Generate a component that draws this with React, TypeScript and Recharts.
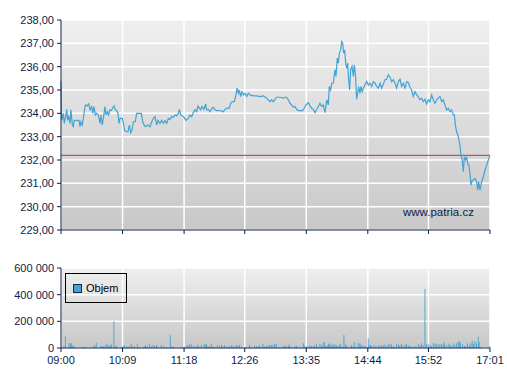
import {
  LineChart,
  Line,
  BarChart,
  Bar,
  XAxis,
  YAxis,
  CartesianGrid,
  ReferenceLine,
  Legend,
} from "recharts";

// x axis: minutes after 09:00
const timeLabels = ["09:00", "10:09", "11:18", "12:26", "13:35", "14:44", "15:52", "17:01"];
const toMinutes = (s: string) => {
  const [h, m] = s.split(":").map(Number);
  return (h - 9) * 60 + m;
};
const timeTicks = timeLabels.map(toMinutes);
const sessionEnd = timeTicks[timeTicks.length - 1];

const priceTicks = [229, 230, 231, 232, 233, 234, 235, 236, 237, 238];
const volumeTicks = [0, 200000, 400000, 600000];
const previousClose = 232.2;

// [minute, price]
const pricePoints: [number, number][] = [
  [0, 235.4], [0.5, 234.0], [1, 233.7], [2.6, 234.0], [3.7, 233.57], [5.2, 233.86], [6.4, 234.17],
  [7.5, 233.7], [8.6, 233.9], [10.1, 233.57], [11.2, 234.15], [12.7, 233.5], [13.8, 233.43],
  [14.9, 233.7], [17.6, 233.7], [20.2, 233.7], [21.3, 233.43], [22.4, 233.64], [23.9, 233.5],
  [25, 233.78], [26.9, 234.29], [28, 234.36], [29.5, 234.32], [31, 234.4], [32.5, 234.15],
  [34.4, 234.29], [35.5, 234.0], [37, 234.29], [38.5, 233.93], [40, 234.0], [41.9, 233.93],
  [43.7, 233.57], [44.8, 233.93], [46.3, 233.5], [47.8, 233.86], [49.3, 234.29], [50.5, 233.93],
  [51.9, 234.07], [53.4, 233.93], [54.9, 234.15], [56.4, 234.12], [57.9, 234.22], [59.4, 234.32],
  [60.9, 234.15], [62.4, 234.12], [63.9, 234.0], [65, 233.57], [66.2, 233.78], [68.8, 233.78],
  [69.9, 233.57], [71.4, 233.26], [73.6, 233.21], [75.1, 233.21], [76.6, 233.5], [78.1, 233.17],
  [79.6, 233.29], [81.1, 233.64], [83.3, 233.64], [84.8, 234.0], [86.7, 234.0], [90.1, 234.0],
  [91.6, 233.64], [93.1, 233.5], [94.6, 233.43], [97.5, 233.5], [99.8, 233.43], [101.7, 233.64],
  [103.5, 233.78], [105.4, 233.86], [107.3, 233.5], [108.8, 233.7], [111, 233.57], [112.9, 233.7],
  [114.7, 233.57], [116.6, 233.69], [118.5, 233.57], [120.3, 233.78], [122.2, 233.74],
  [124.1, 233.86], [126, 233.83], [127.8, 233.93], [129.7, 233.89], [131.6, 234.0], [132.7, 234.17],
  [134.2, 233.93], [136.4, 233.89], [137.9, 233.83], [140.1, 233.7], [142.8, 233.78],
  [144.6, 233.93], [146.5, 233.86], [148.4, 234.03], [150.2, 234.15], [152.1, 234.07],
  [153.6, 234.32], [155.1, 234.22], [156.6, 234.15], [158.1, 234.29], [160.3, 234.17],
  [162.2, 234.4], [163.3, 234.15], [165.2, 234.17], [167.1, 234.07], [169.3, 234.22],
  [170.8, 234.26], [172.7, 234.15], [174.5, 234.12], [178.3, 234.12], [182, 234.07],
  [183.9, 234.17], [185.7, 234.22], [188.7, 234.22], [190.2, 234.43], [192.1, 234.5],
  [194.3, 234.5], [195.8, 234.72], [197.3, 235.08], [198.8, 234.86], [199.9, 235.0],
  [201.4, 234.72], [202.9, 234.93], [204.4, 234.79], [206.3, 234.86], [208.2, 234.72],
  [210, 234.86], [211.9, 234.79], [215.6, 234.75], [219.4, 234.75], [223.1, 234.72],
  [226.8, 234.75], [230.6, 234.65], [232.5, 234.58], [234.3, 234.5], [236.2, 234.58],
  [238.1, 234.5], [239.9, 234.6], [241.8, 234.69], [245.5, 234.69], [249.3, 234.65],
  [251.1, 234.69], [253, 234.69], [254.9, 234.58], [256.7, 234.43], [258.6, 234.36],
  [260.5, 234.26], [262.4, 234.29], [264.2, 234.17], [266.1, 234.12], [268, 234.12],
  [270.9, 234.12], [272.8, 234.22], [274.7, 234.36], [277.3, 234.46], [279.2, 234.32],
  [281, 234.22], [282.9, 234.17], [284.8, 234.03], [286.6, 234.15], [288.5, 234.29],
  [290.4, 234.43], [292.2, 234.29], [294.1, 234.36], [296, 234.03], [297.9, 234.58],
  [299.7, 234.36], [300.8, 235.15], [302.3, 235.0], [303.5, 235.29], [305.3, 235.29],
  [307.2, 235.87], [308.3, 235.58], [309.8, 236.37], [310.9, 236.15], [312.1, 236.58],
  [313.6, 236.72], [314.7, 237.08], [315.8, 237.01], [316.9, 236.58], [318, 236.72],
  [319.2, 236.15], [320.3, 235.94], [321.4, 236.15], [322.5, 235.44], [323.6, 235.0],
  [324.8, 235.87], [326.3, 236.01], [327.8, 235.58], [328.9, 236.08], [330, 235.72],
  [331.5, 234.6], [332.6, 234.86], [333.7, 235.15], [335.2, 234.86], [336.3, 235.15],
  [337.8, 234.93], [339, 235.08], [340.8, 235.22], [342.7, 235.36], [344.6, 235.22],
  [346.4, 235.29], [348.3, 235.15], [350.2, 235.36], [352.1, 235.29], [353.9, 235.15],
  [355.8, 235.08], [357.7, 235.29], [359.5, 235.08], [361.4, 235.26], [363.3, 235.44],
  [365.1, 235.46], [367, 235.65], [368.9, 235.55], [370.7, 235.36], [372.6, 235.44],
  [374.5, 235.29], [376.3, 235.08], [378.2, 235.36], [380.1, 235.46], [381.9, 235.15],
  [383.8, 235.29], [385.7, 235.08], [387.5, 235.36], [389.4, 235.32], [391.3, 235.12],
  [393.1, 235.0], [395, 234.72], [396.9, 234.93], [398.8, 234.79], [400.6, 234.72],
  [402.5, 234.58], [404.4, 234.65], [406.2, 234.5], [408.1, 234.6], [410, 234.4],
  [411.8, 234.58], [413.7, 234.5], [415.6, 234.79], [417.4, 234.58], [419.3, 234.43],
  [421.2, 234.58], [423, 234.65], [424.9, 234.72], [426.8, 234.5], [428.6, 234.58],
  [430.5, 234.36], [432.4, 234.15], [434.3, 234.22], [436.1, 234.07], [438, 234.15],
  [439.9, 233.93], [441, 233.93], [442.1, 233.5], [443.6, 233.21], [445.5, 233.0],
  [447.3, 232.64], [448.5, 232.21], [449.9, 232.0], [451.1, 231.5], [452.2, 232.14],
  [453.7, 232.0], [454.8, 232.14], [455.9, 231.85], [457.4, 231.78], [458.5, 231.42],
  [459.7, 230.92], [461.2, 231.14], [462.3, 231.14], [464.2, 231.21], [466.1, 231.07],
  [467.2, 230.71], [468.3, 231.07], [469.8, 230.71], [471.6, 231.07], [473.5, 231.28],
  [475.4, 231.57], [477.3, 231.78], [479.1, 232.0], [481, 232.21],
];

// [minute, volume]
const volumePoints: [number, number][] = [
  [3.4, 12500], [4.9, 87500], [9, 37500], [10.5, 32500], [12, 37500], [13.5, 20000], [14.6, 12500],
  [23.5, 7500], [25.8, 7500], [27.3, 7500], [35.9, 7500], [37.7, 22500], [39.6, 37500],
  [44.5, 12500], [46, 12500], [47.8, 12500], [49.7, 22500], [51.6, 32500], [53.4, 17500],
  [55.3, 22500], [56.4, 27500], [59.4, 200000], [60.9, 12500], [62.4, 12500], [67.6, 7500],
  [69.5, 12500], [71, 22500], [73.3, 12500], [75.1, 7500], [77, 12500], [78.9, 32500],
  [80.7, 12500], [82.6, 12500], [85.6, 32500], [88.2, 7500], [93.1, 12500], [94.9, 22500],
  [96.8, 12500], [99.4, 32500], [101.3, 12500], [103.2, 22500], [105, 17500], [107.3, 22500],
  [108.8, 7500], [112.5, 22500], [115.5, 12500], [118.5, 7500], [122.6, 95000], [124.5, 12500],
  [126.3, 7500], [134.9, 7500], [136.8, 7500], [138.7, 7500], [140.5, 17500], [142.4, 22500],
  [144.3, 27500], [146.1, 27500], [148, 12500], [149.9, 12500], [151.7, 12500], [153.6, 22500],
  [155.5, 7500], [157.3, 22500], [160.3, 27500], [161.8, 27500], [163.3, 27500], [164.8, 12500],
  [166.7, 12500], [168.6, 32500], [170.4, 12500], [172.3, 7500], [175.3, 22500], [177.9, 17500],
  [179.8, 22500], [181.6, 12500], [183.5, 22500], [185.4, 7500], [187.2, 12500], [189.1, 12500],
  [191, 22500], [192.8, 12500], [194.7, 7500], [196.6, 22500], [198.5, 17500], [200.3, 22500],
  [202.2, 7500], [207.8, 7500], [211.5, 22500], [213.4, 7500], [217.1, 17500], [219, 12500],
  [220.9, 12500], [222.7, 22500], [224.6, 7500], [226.5, 32500], [228.4, 12500], [230.2, 12500],
  [232.1, 22500], [234, 22500], [235.8, 22500], [237.7, 22500], [239.6, 32500], [241.4, 32500],
  [245.5, 10000], [249.2, 15000], [251.1, 20000], [253, 10000], [254.9, 15000], [256, 27500],
  [258.6, 5000], [262.3, 15000], [264.2, 15000], [267.9, 5000], [271.7, 35000], [272.8, 20000],
  [275.4, 15000], [277.3, 5000], [279.1, 20000], [281, 15000], [282.9, 15000], [284.7, 20000],
  [286.6, 27500], [288.5, 10000], [290.4, 30000], [292.2, 20000], [294.1, 35000], [295.2, 45000],
  [296.7, 15000], [298.6, 20000], [300.1, 30000], [301.6, 35000], [302.7, 25000], [304.6, 20000],
  [306.1, 30000], [307.5, 20000], [309, 20000], [310.9, 15000], [312.8, 30000], [313.9, 20000],
  [315.8, 10000], [317.3, 97500], [318.8, 25000], [320.2, 20000], [322.1, 5000], [324, 10000],
  [325.9, 20000], [327.7, 10000], [328.8, 45000], [330.7, 10000], [333.3, 35000], [335.2, 35000],
  [336.3, 25000], [337.8, 20000], [339.7, 15000], [341.6, 15000], [343.4, 5000], [344.5, 72500],
  [345.7, 25000], [347.2, 20000], [348.7, 15000], [350.9, 20000], [353.1, 15000], [355.8, 20000],
  [357.6, 15000], [359.5, 20000], [361.4, 20000], [363.2, 25000], [365.1, 15000], [367, 27500],
  [368.8, 27500], [370.7, 27500], [372.6, 15000], [374.4, 5000], [376.3, 27500], [378.2, 27500],
  [380, 20000], [381.9, 30000], [383.8, 15000], [385.7, 25000], [387.5, 30000], [389.4, 20000],
  [391.3, 15000], [393.1, 10000], [395, 5000], [396.9, 15000], [398.7, 5000], [400.6, 27500],
  [402.5, 20000], [404.3, 35000], [406.2, 20000], [408.1, 442500], [409.9, 27500], [411.8, 27500],
  [413.7, 20000], [415.5, 15000], [417.4, 35000], [419.3, 35000], [421.2, 27500], [423, 27500],
  [424.9, 27500], [426.8, 27500], [428.6, 27500], [429.7, 45000], [431.6, 20000], [434.2, 27500],
  [436.1, 27500], [438, 15000], [439.8, 35000], [441.7, 25000], [443.6, 35000], [445.4, 45000],
  [446.6, 52500], [448.1, 35000], [450.3, 27500], [452.2, 15000], [454, 15000], [455.9, 35000],
  [457.8, 20000], [459.6, 35000], [461.1, 52500], [462.6, 27500], [464.1, 52500], [466, 35000],
  [467.9, 85000], [469, 45000], [470.5, 5000], [481, 15000],
];

const priceData = pricePoints.map(([t, p]) => ({ t, p }));
const volumeData = volumePoints.map(([t, v]) => ({ t, v }));

const navy = "#0b1d4a";
const seriesBlue = "#42a3d4";
const font = "'Liberation Sans', Arial, sans-serif";
const tickStyle = { fill: navy, fontSize: 11, fontFamily: font };

const timeLabel = (v: number) => timeLabels[timeTicks.indexOf(v)] ?? "";
const priceLabel = (v: number) => v.toFixed(2).replace(".", ",");
const volumeLabel = (v: number) => String(v).replace(/\B(?=(\d{3})+(?!\d))/g, " ");

const VolumeLegend = () => (
  <div
    style={{
      boxSizing: "border-box",
      width: 62,
      height: 30,
      border: "1px solid #000",
      display: "flex",
      alignItems: "center",
      paddingLeft: 7,
      fontFamily: font,
      fontSize: 11,
      color: "#000",
    }}
  >
    <span
      style={{
        display: "inline-block",
        width: 7,
        height: 7,
        background: seriesBlue,
        border: "1px solid #1b2a44",
        marginRight: 4,
      }}
    />
    Objem
  </div>
);

export default function App() {
  return (
    <div style={{ position: "absolute", left: 0, top: 0, width: 507, height: 380, background: "#fff" }}>
      {/* Price */}
      <div style={{ position: "relative", width: 507, height: 240 }}>
        <LineChart width={507} height={240} data={priceData} margin={{ top: 20, right: 17, bottom: 0, left: 0 }}>
          <defs>
            <linearGradient id="bgPrice" x1="0" y1="0" x2="0" y2="1">
              <stop offset="0%" stopColor="#efefef" />
              <stop offset="100%" stopColor="#c8c8c8" />
            </linearGradient>
          </defs>
          <CartesianGrid fill="url(#bgPrice)" stroke="#ffffff" strokeWidth={1.5} />
          <XAxis
            type="number"
            dataKey="t"
            domain={[0, sessionEnd]}
            ticks={timeTicks}
            tickFormatter={() => ""}
            height={10}
            stroke={navy}
            tickSize={4}
          />
          <YAxis
            domain={[229, 238]}
            ticks={priceTicks}
            tickFormatter={priceLabel}
            width={61}
            stroke={navy}
            tickSize={4}
            tickMargin={3}
            tick={tickStyle}
            interval={0}
          />
          <ReferenceLine y={previousClose} stroke="#bf3a34" strokeWidth={1} ifOverflow="extendDomain" />
          <Line
            type="linear"
            dataKey="p"
            stroke={seriesBlue}
            strokeWidth={1.2}
            dot={false}
            isAnimationActive={false}
          />
        </LineChart>
        <div
          style={{
            position: "absolute",
            left: 403,
            top: 206,
            fontFamily: font,
            fontSize: 11.5,
            color: navy,
            pointerEvents: "none",
          }}
        >
          www.patria.cz
        </div>
      </div>

      {/* Volume */}
      <div style={{ position: "absolute", left: 0, top: 250 }}>
        <BarChart width={507} height={130} data={volumeData} margin={{ top: 18, right: 17, bottom: 7, left: 0 }}>
          <defs>
            <linearGradient id="bgVolume" x1="0" y1="0" x2="0" y2="1">
              <stop offset="0%" stopColor="#efefef" />
              <stop offset="100%" stopColor="#c8c8c8" />
            </linearGradient>
          </defs>
          <CartesianGrid fill="url(#bgVolume)" stroke="#ffffff" strokeWidth={1.5} />
          <XAxis
            type="number"
            dataKey="t"
            domain={[0, sessionEnd]}
            ticks={timeTicks}
            tickFormatter={timeLabel}
            height={25}
            stroke={navy}
            tickSize={4}
            tickMargin={4}
            tick={tickStyle}
            interval={0}
          />
          <YAxis
            domain={[0, 600000]}
            ticks={volumeTicks}
            tickFormatter={volumeLabel}
            width={61}
            stroke={navy}
            tickSize={4}
            tickMargin={3}
            tick={tickStyle}
            interval={0}
          />
          <Legend
            layout="horizontal"
            verticalAlign="middle"
            align="center"
            content={() => <VolumeLegend />}
            wrapperStyle={{ left: 65, top: 23, width: 62, height: 30 }}
          />
          <Bar dataKey="v" fill={seriesBlue} barSize={2} isAnimationActive={false} />
        </BarChart>
      </div>
    </div>
  );
}
